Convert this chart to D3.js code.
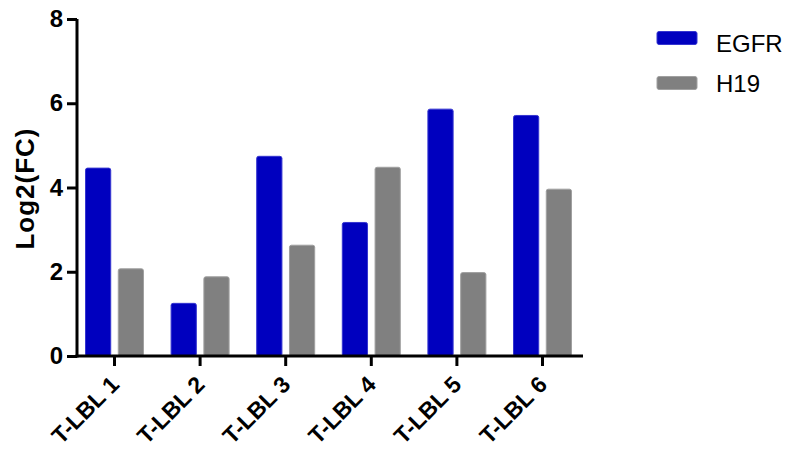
<!DOCTYPE html>
<html><head><meta charset="utf-8">
<script src="https://cdn.jsdelivr.net/npm/d3@7"></script>
<style>body{margin:0;background:#fff}svg{display:block}</style>
</head><body>
<svg id="c" width="794" height="454"></svg>
<script>
const categories = ["T-LBL 1","T-LBL 2","T-LBL 3","T-LBL 4","T-LBL 5","T-LBL 6"];
const seriesNames = ["EGFR","H19"];
const egfr = [4.46, 1.25, 4.74, 3.17, 5.86, 5.71];
const h19 = [2.07, 1.88, 2.63, 4.48, 1.98, 3.96];
const yTicks = [0,2,4,6,8];
const colors = ["#0000BF","#808080"];
const strokes = ["#3535d0","#a0a0a0"];

const svg = d3.select("#c");
const font = "Liberation Sans, Arial, sans-serif";
const y = d3.scaleLinear().domain([0,8]).range([356,19]);
const x = d3.scaleBand().domain(categories).range([71.7,585.3]).paddingInner(0).paddingOuter(0);
const groupW = 59;
const xs = d3.scaleBand().domain(seriesNames).range([0,groupW]).paddingInner(0.2);
const data = [egfr,h19];

// bars
seriesNames.forEach((s,si)=>{
  svg.append("g").selectAll("rect").data(data[si]).join("rect")
    .attr("x",(d,i)=>x(categories[i])+x.bandwidth()/2-groupW/2+xs(s)+0.5)
    .attr("y",d=>y(d))
    .attr("width",xs.bandwidth()-1)
    .attr("height",d=>y(0)-y(d))
    .attr("rx",2).attr("ry",2)
    .attr("fill",colors[si]).attr("stroke",strokes[si]).attr("stroke-width",1);
});

// y axis
const ya = svg.append("g").attr("transform","translate(77,0)")
  .call(d3.axisLeft(y).tickValues(yTicks).tickSize(10).tickPadding(4).tickFormat(d3.format("d")));
ya.attr("font-size",null).attr("font-family",null);
ya.select(".domain").attr("stroke","#000").attr("stroke-width",3).attr("d","M0,19V357.5");
ya.selectAll(".tick line").attr("stroke","#000").attr("stroke-width",3);
ya.selectAll(".tick text").style("font-family",font).style("font-size","24px").style("font-weight","bold").attr("fill","#000");

// x axis
const xa = svg.append("g").attr("transform","translate(0,356)")
  .call(d3.axisBottom(x).tickSize(10).tickFormat(""));
xa.select(".domain").attr("stroke","#000").attr("stroke-width",3).attr("d","M75.5,0H583");
xa.selectAll(".tick line").attr("stroke","#000").attr("stroke-width",3);

// x labels
svg.append("g").selectAll("text").data(categories).join("text")
  .attr("transform",d=>`translate(${x(d)+x.bandwidth()/2+6},386) rotate(-45)`)
  .attr("text-anchor","end")
  .style("font-family",font).style("font-size","23px").style("font-weight","bold")
  .text(d=>d);

// y title
svg.append("text").attr("transform","translate(34,188.5) rotate(-90)")
  .attr("text-anchor","middle").style("font-family",font).style("font-size","26px").style("font-weight","bold")
  .style("letter-spacing","1px")
  .text("Log2(FC)");

// legend
const lg = svg.append("g");
seriesNames.forEach((s,i)=>{
  lg.append("rect").attr("x",657).attr("y",31.5+i*45).attr("width",40).attr("height",13)
    .attr("rx",2).attr("fill",colors[i]).attr("stroke",strokes[i]).attr("stroke-width",1);
  lg.append("text").attr("x",716).attr("y",52+i*40).style("font-family",font).style("font-size","24px")
    .text(s);
});
</script>
</body></html>
